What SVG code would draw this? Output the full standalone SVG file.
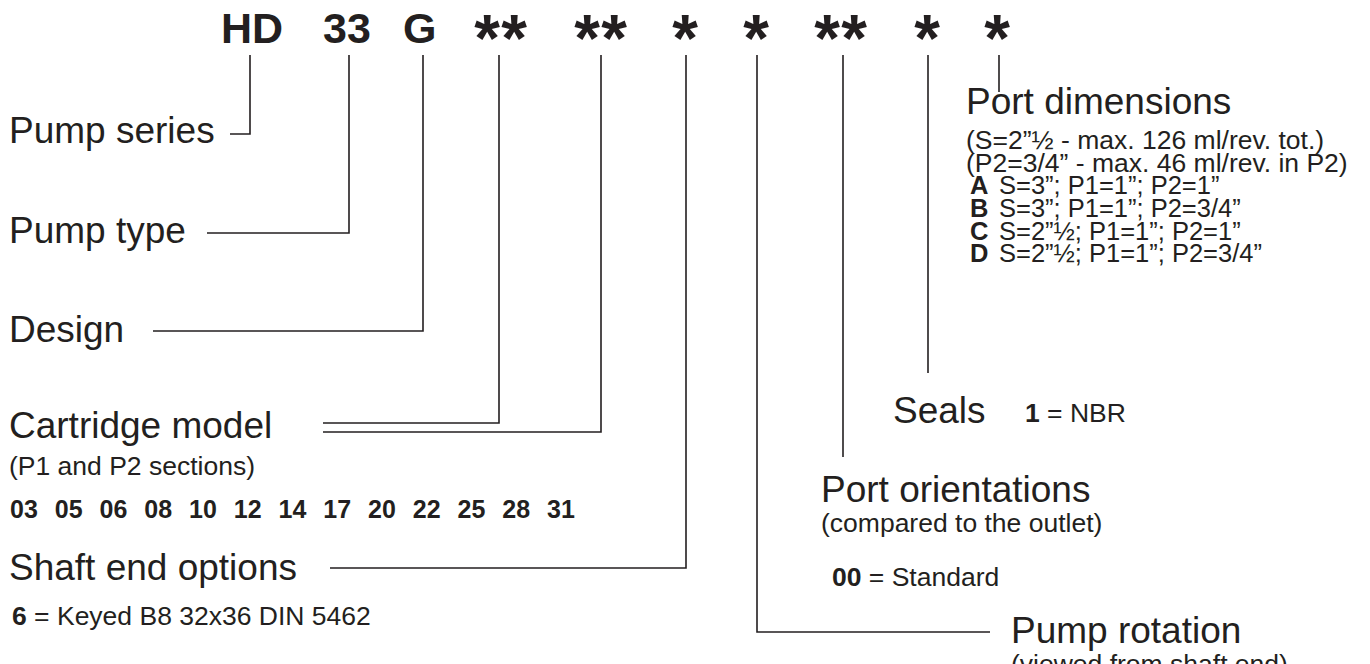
<svg xmlns="http://www.w3.org/2000/svg" width="1370" height="664" viewBox="0 0 1370 664">
<style>
text{font-family:"Liberation Sans",Arial,sans-serif;fill:#231f20}
.code{font-weight:bold;font-size:43px}
.star{font-weight:bold;font-size:66px;text-anchor:middle}
.h{font-size:37px}
.s{font-size:26.5px}
.r{font-size:25.5px}
.b{font-weight:bold}
.ln{fill:none;stroke:#231f20;stroke-width:1.6}
</style>
<rect width="1370" height="664" fill="#fff"/>
<g id="code">
<text class="code" x="221" y="43">HD</text>
<text class="code" x="323" y="43">33</text>
<text class="code" x="403" y="43">G</text>
<text class="star" x="487" y="61">*</text>
<text class="star" x="514" y="61">*</text>
<text class="star" x="587" y="61">*</text>
<text class="star" x="614" y="61">*</text>
<text class="star" x="685" y="61">*</text>
<text class="star" x="756" y="61">*</text>
<text class="star" x="827" y="61">*</text>
<text class="star" x="854" y="61">*</text>
<text class="star" x="927" y="61">*</text>
<text class="star" x="997" y="61">*</text>
</g>
<g id="connectors">
<polyline class="ln" points="230,134 250,134 250,55"/>
<polyline class="ln" points="207,233 349,233 349,55"/>
<polyline class="ln" points="153,331 423,331 423,55"/>
<polyline class="ln" points="323,423 499,423 499,55"/>
<polyline class="ln" points="323,432 601,432 601,55"/>
<polyline class="ln" points="330,568 686,568 686,55"/>
<polyline class="ln" points="990,632 757,632 757,55"/>
<line class="ln" x1="843" y1="55" x2="843" y2="457"/>
<line class="ln" x1="928" y1="55" x2="928" y2="373"/>
<line class="ln" x1="999" y1="55" x2="999" y2="92"/>
</g>
<g id="pump-series"><text class="h" x="9" y="143">Pump series</text></g>
<g id="pump-type"><text class="h" x="9" y="243">Pump type</text></g>
<g id="design"><text class="h" x="9" y="342">Design</text></g>
<g id="cartridge-model">
<text class="h" x="9" y="438">Cartridge model</text>
<text class="s" x="9" y="475">(P1 and P2 sections)</text>
<text class="b" x="10" y="518" style="font-size:25px;word-spacing:10px">03 05 06 08 10 12 14 17 20 22 25 28 31</text>
</g>
<g id="shaft-end">
<text class="h" x="9" y="580">Shaft end options</text>
<text class="s" x="12" y="625"><tspan class="b">6</tspan> = Keyed B8 32x36 DIN 5462</text>
</g>
<g id="pump-rotation">
<text class="h" x="1011" y="643">Pump rotation</text>
<text class="s" x="1011" y="673">(viewed from shaft end)</text>
</g>
<g id="port-orientations">
<text class="h" x="821" y="502">Port orientations</text>
<text class="s" x="821" y="532">(compared to the outlet)</text>
<text class="s" x="832" y="586"><tspan class="b">00</tspan> = Standard</text>
</g>
<g id="seals">
<text class="h" x="893" y="423">Seals</text>
<text class="s" x="1025" y="422"><tspan class="b">1</tspan> = NBR</text>
</g>
<g id="port-dimensions">
<text class="h" x="966" y="114">Port dimensions</text>
<text class="s" x="966" y="149">(S=2”½  - max. 126 ml/rev. tot.)</text>
<text class="s" x="966" y="172">(P2=3/4” - max. 46 ml/rev. in P2)</text>
<text class="r" x="970" y="194"><tspan class="b">A</tspan><tspan x="999">S=3”; P1=1”; P2=1”</tspan></text>
<text class="r" x="970" y="217"><tspan class="b">B</tspan><tspan x="999">S=3”; P1=1”; P2=3/4”</tspan></text>
<text class="r" x="970" y="240"><tspan class="b">C</tspan><tspan x="999">S=2”½; P1=1”; P2=1”</tspan></text>
<text class="r" x="970" y="262"><tspan class="b">D</tspan><tspan x="999">S=2”½; P1=1”; P2=3/4”</tspan></text>
</g>
</svg>
